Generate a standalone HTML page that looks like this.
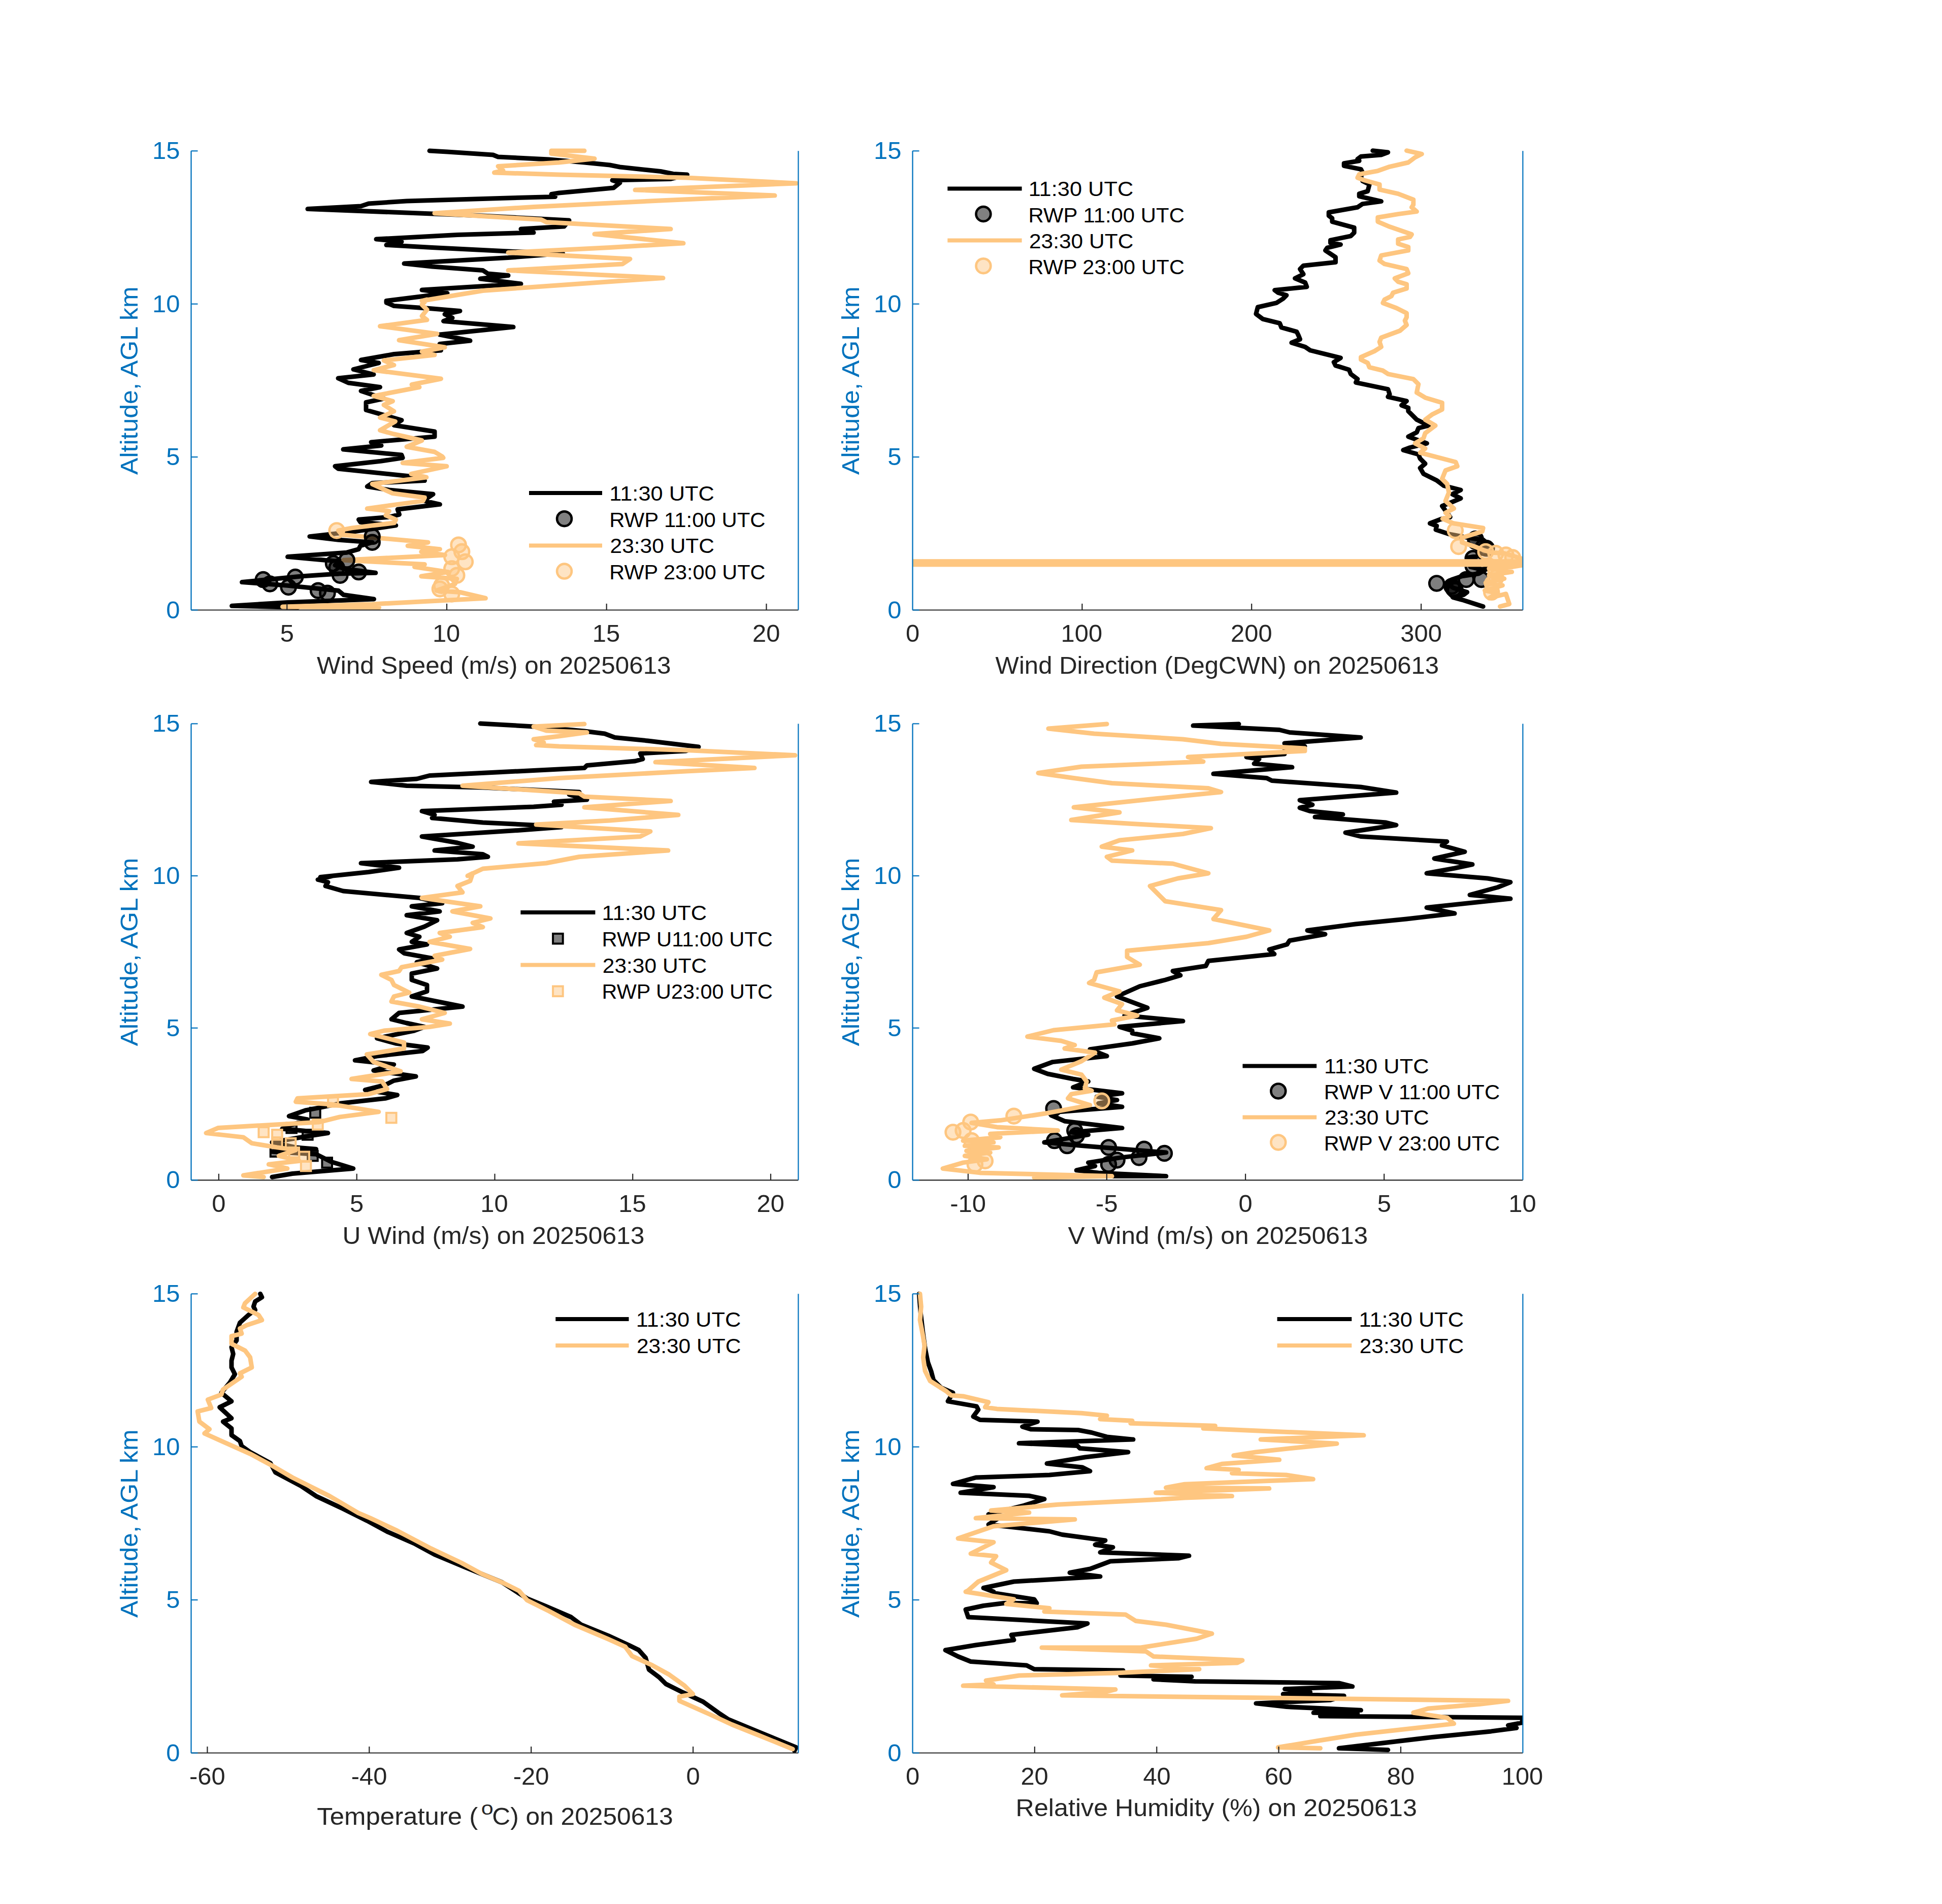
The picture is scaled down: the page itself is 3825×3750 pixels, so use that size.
<!DOCTYPE html><html><head><meta charset="utf-8"><style>html,body{margin:0;padding:0;background:#fff;overflow:hidden}svg{display:block}text{font-family:"Liberation Sans",sans-serif}</style></head><body>
<svg width="3825" height="3750" viewBox="0 0 3825 3750">
<rect width="3825" height="3750" fill="#fff"/>
<clipPath id="c1"><rect x="376.5" y="291.3" width="1195.9" height="910.2"/></clipPath>
<g clip-path="url(#c1)">
<polyline points="846.0,297.0 881.0,299.0 971.0,305.0 981.0,309.0 1081.0,314.0 1151.0,320.0 1201.0,325.0 1221.0,329.0 1301.0,337.5 1326.0,342.5 1353.5,344.0 1321.0,352.5 1206.0,355.0 1221.0,360.0 1208.5,370.0 1101.0,380.0 1086.0,382.5 1093.5,387.5 1001.0,390.0 801.0,396.0 726.0,401.0 711.0,406.0 606.0,411.5 851.0,421.0 951.0,425.0 1121.0,434.0 1111.0,446.0 1026.0,451.0 1051.0,458.0 901.0,462.5 741.0,471.0 791.0,476.0 761.0,482.5 851.0,487.5 1001.0,495.0 1108.5,499.0 1001.0,507.5 796.0,519.0 851.0,525.0 951.0,532.5 961.0,539.0 1001.0,542.5 946.0,549.0 1026.0,559.0 831.0,571.0 881.0,577.5 761.0,592.5 761.0,596.0 776.0,602.5 846.0,607.5 906.0,612.5 876.0,619.0 891.0,626.0 873.5,632.5 1011.0,644.0 866.0,659.0 926.0,671.0 866.0,677.5 868.5,690.0 776.0,697.5 711.0,709.0 746.0,715.0 696.0,727.5 736.0,737.5 666.0,745.0 686.0,754.0 748.5,762.5 711.0,770.0 756.0,785.0 721.0,792.5 721.0,807.5 791.0,827.5 776.0,837.5 856.0,850.0 856.0,860.0 731.0,871.0 751.0,877.5 676.0,885.0 791.0,896.0 793.1,901.7 749.8,908.3 659.9,918.3 666.5,923.3 809.8,938.3 836.4,946.6 733.2,951.6 723.2,958.3 766.5,965.0 853.1,973.3 843.1,980.0 836.4,986.6 866.4,993.3 783.1,1003.3 786.5,1013.3 766.5,1018.3 706.5,1023.3 709.8,1028.3 779.8,1034.9 699.9,1046.6 609.9,1056.6 666.5,1063.3 733.2,1068.2 709.8,1074.9 706.5,1081.6 683.2,1088.2 566.6,1096.6 639.9,1103.2 669.9,1104.9 659.9,1113.2 676.5,1119.9 739.8,1128.2 666.5,1129.9 593.2,1134.9 476.6,1146.5 566.6,1153.2 666.5,1163.2 676.5,1171.5 736.5,1179.9 566.6,1186.5 456.6,1193.2 586.6,1196.5" fill="none" stroke="#000000" stroke-width="9.0" stroke-linejoin="round" stroke-linecap="round" />
<polyline points="1151.0,297.0 1086.0,297.0 1086.0,302.5 1171.0,312.5 1101.0,320.0 981.0,327.5 991.0,336.0 973.5,340.0 1101.0,344.0 1351.0,350.0 1568.5,361.0 1251.0,374.0 1526.0,385.0 1301.0,395.0 1051.0,407.5 856.0,420.0 1066.0,432.5 1076.0,437.5 1321.0,451.0 1171.0,461.0 1346.0,479.0 1201.0,487.5 1001.0,497.5 1241.0,510.0 1226.0,520.0 1001.0,532.5 1306.0,547.5 1126.0,560.0 951.0,572.5 831.0,592.5 841.0,590.0 831.0,600.0 841.0,610.0 831.0,622.5 841.0,630.0 748.5,642.5 861.0,657.5 786.0,670.0 876.0,684.0 831.0,692.5 856.0,699.0 756.0,710.0 776.0,719.0 736.0,729.0 868.5,746.0 811.0,757.5 826.0,762.5 736.0,780.0 773.5,790.0 756.0,797.5 776.0,810.0 748.5,822.5 778.5,830.0 748.5,847.5 776.0,855.0 831.0,867.5 801.0,880.0 856.0,890.0 871.0,899.0 873.1,901.7 793.1,911.7 879.8,918.3 809.8,933.3 839.8,940.0 733.2,953.3 773.1,971.6 836.4,980.0 833.1,986.6 723.2,1001.6 766.5,1006.6 759.8,1014.9 779.8,1023.3 776.5,1029.9 693.2,1039.9 666.5,1044.9 673.2,1053.3 843.1,1068.2 803.1,1074.9 866.4,1081.6 829.8,1086.6 876.4,1093.2 676.5,1103.2 836.4,1111.6 816.5,1116.6 883.1,1126.6 829.8,1134.9 899.8,1139.9 896.4,1149.9 859.8,1163.2 906.4,1166.5 956.4,1178.2 733.2,1189.9 556.6,1194.9 746.5,1196.5" fill="none" stroke="#FEC680" stroke-width="9.0" stroke-linejoin="round" stroke-linecap="round" />
<circle cx="733.2" cy="1056.6" r="14.4" fill="#000000" fill-opacity="0.5" stroke="#000000" stroke-width="4.7"/>
<circle cx="733.2" cy="1068.2" r="14.4" fill="#000000" fill-opacity="0.5" stroke="#000000" stroke-width="4.7"/>
<circle cx="683.2" cy="1103.2" r="14.4" fill="#000000" fill-opacity="0.5" stroke="#000000" stroke-width="4.7"/>
<circle cx="656.5" cy="1109.9" r="14.4" fill="#000000" fill-opacity="0.5" stroke="#000000" stroke-width="4.7"/>
<circle cx="663.2" cy="1118.2" r="14.4" fill="#000000" fill-opacity="0.5" stroke="#000000" stroke-width="4.7"/>
<circle cx="669.9" cy="1133.2" r="14.4" fill="#000000" fill-opacity="0.5" stroke="#000000" stroke-width="4.7"/>
<circle cx="706.5" cy="1126.6" r="14.4" fill="#000000" fill-opacity="0.5" stroke="#000000" stroke-width="4.7"/>
<circle cx="518.3" cy="1141.5" r="14.4" fill="#000000" fill-opacity="0.5" stroke="#000000" stroke-width="4.7"/>
<circle cx="531.6" cy="1149.9" r="14.4" fill="#000000" fill-opacity="0.5" stroke="#000000" stroke-width="4.7"/>
<circle cx="581.6" cy="1136.5" r="14.4" fill="#000000" fill-opacity="0.5" stroke="#000000" stroke-width="4.7"/>
<circle cx="568.2" cy="1156.5" r="14.4" fill="#000000" fill-opacity="0.5" stroke="#000000" stroke-width="4.7"/>
<circle cx="626.6" cy="1163.2" r="14.4" fill="#000000" fill-opacity="0.5" stroke="#000000" stroke-width="4.7"/>
<circle cx="644.9" cy="1168.2" r="14.4" fill="#000000" fill-opacity="0.5" stroke="#000000" stroke-width="4.7"/>
<circle cx="663.2" cy="1044.9" r="14.4" fill="#FEC680" fill-opacity="0.47" stroke="#FEC680" stroke-width="4.7"/>
<circle cx="903.1" cy="1073.2" r="14.4" fill="#FEC680" fill-opacity="0.47" stroke="#FEC680" stroke-width="4.7"/>
<circle cx="909.7" cy="1086.6" r="14.4" fill="#FEC680" fill-opacity="0.47" stroke="#FEC680" stroke-width="4.7"/>
<circle cx="916.4" cy="1106.6" r="14.4" fill="#FEC680" fill-opacity="0.47" stroke="#FEC680" stroke-width="4.7"/>
<circle cx="889.8" cy="1096.6" r="14.4" fill="#FEC680" fill-opacity="0.47" stroke="#FEC680" stroke-width="4.7"/>
<circle cx="889.8" cy="1119.9" r="14.4" fill="#FEC680" fill-opacity="0.47" stroke="#FEC680" stroke-width="4.7"/>
<circle cx="899.8" cy="1133.2" r="14.4" fill="#FEC680" fill-opacity="0.47" stroke="#FEC680" stroke-width="4.7"/>
<circle cx="866.4" cy="1159.9" r="14.4" fill="#FEC680" fill-opacity="0.47" stroke="#FEC680" stroke-width="4.7"/>
<circle cx="889.8" cy="1169.9" r="14.4" fill="#FEC680" fill-opacity="0.47" stroke="#FEC680" stroke-width="4.7"/>
<circle cx="869.8" cy="1153.2" r="14.4" fill="#FEC680" fill-opacity="0.47" stroke="#FEC680" stroke-width="4.7"/>
</g>
<line x1="376.5" y1="1201.5" x2="1572.4" y2="1201.5" stroke="#262626" stroke-width="2.2"/>
<line x1="565.3" y1="1201.5" x2="565.3" y2="1188.9" stroke="#262626" stroke-width="2.2"/>
<text x="551.8" y="1264.0" font-size="47.5" fill="#262626" textLength="27.2" lengthAdjust="spacingAndGlyphs" >5</text>
<line x1="880.0" y1="1201.5" x2="880.0" y2="1188.9" stroke="#262626" stroke-width="2.2"/>
<text x="851.9" y="1264.0" font-size="47.5" fill="#262626" textLength="54.4" lengthAdjust="spacingAndGlyphs" >10</text>
<line x1="1194.7" y1="1201.5" x2="1194.7" y2="1188.9" stroke="#262626" stroke-width="2.2"/>
<text x="1166.7" y="1264.0" font-size="47.5" fill="#262626" textLength="54.4" lengthAdjust="spacingAndGlyphs" >15</text>
<line x1="1509.5" y1="1201.5" x2="1509.5" y2="1188.9" stroke="#262626" stroke-width="2.2"/>
<text x="1482.0" y="1264.0" font-size="47.5" fill="#262626" textLength="54.4" lengthAdjust="spacingAndGlyphs" >20</text>
<line x1="376.5" y1="297.3" x2="376.5" y2="1201.5" stroke="#0072BD" stroke-width="2.3"/>
<line x1="1572.4" y1="297.3" x2="1572.4" y2="1201.5" stroke="#0072BD" stroke-width="2.2"/>
<line x1="376.5" y1="1201.5" x2="389.5" y2="1201.5" stroke="#0072BD" stroke-width="2.2"/>
<text x="327.2" y="1217.5" font-size="47.5" fill="#0072BD" textLength="27.2" lengthAdjust="spacingAndGlyphs" >0</text>
<line x1="376.5" y1="900.1" x2="389.5" y2="900.1" stroke="#0072BD" stroke-width="2.2"/>
<text x="327.3" y="916.1" font-size="47.5" fill="#0072BD" textLength="27.2" lengthAdjust="spacingAndGlyphs" >5</text>
<line x1="376.5" y1="598.7" x2="389.5" y2="598.7" stroke="#0072BD" stroke-width="2.2"/>
<text x="300.0" y="614.7" font-size="47.5" fill="#0072BD" textLength="54.4" lengthAdjust="spacingAndGlyphs" >10</text>
<line x1="376.5" y1="297.3" x2="389.5" y2="297.3" stroke="#0072BD" stroke-width="2.2"/>
<text x="300.1" y="313.3" font-size="47.5" fill="#0072BD" textLength="54.4" lengthAdjust="spacingAndGlyphs" >15</text>
<g transform="translate(271.3,0) rotate(-90)"><text x="-934.9" y="0" font-size="47.5" fill="#0072BD" textLength="370.6" lengthAdjust="spacingAndGlyphs">Altitude, AGL km</text></g>
<text x="624.1" y="1327.2" font-size="47.5" fill="#262626" textLength="697.5" lengthAdjust="spacingAndGlyphs" >Wind Speed (m/s) on 20250613</text>
<clipPath id="c2"><rect x="1797.5" y="291.3" width="1201.9" height="910.2"/></clipPath>
<g clip-path="url(#c2)">
<circle cx="2906.2" cy="1061.5" r="14.4" fill="#000000" fill-opacity="0.5" stroke="#000000" stroke-width="4.7"/>
<circle cx="2906.2" cy="1066.5" r="14.4" fill="#000000" fill-opacity="0.5" stroke="#000000" stroke-width="4.7"/>
<circle cx="2927.8" cy="1079.8" r="14.4" fill="#000000" fill-opacity="0.5" stroke="#000000" stroke-width="4.7"/>
<circle cx="2901.2" cy="1099.8" r="14.4" fill="#000000" fill-opacity="0.5" stroke="#000000" stroke-width="4.7"/>
<circle cx="2901.2" cy="1114.8" r="14.4" fill="#000000" fill-opacity="0.5" stroke="#000000" stroke-width="4.7"/>
<circle cx="2917.9" cy="1141.4" r="14.4" fill="#000000" fill-opacity="0.5" stroke="#000000" stroke-width="4.7"/>
<circle cx="2887.9" cy="1141.4" r="14.4" fill="#000000" fill-opacity="0.5" stroke="#000000" stroke-width="4.7"/>
<circle cx="2829.7" cy="1148.9" r="14.4" fill="#000000" fill-opacity="0.5" stroke="#000000" stroke-width="4.7"/>
<circle cx="2859.6" cy="1154.7" r="14.4" fill="#000000" fill-opacity="0.5" stroke="#000000" stroke-width="4.7"/>
<circle cx="2863.0" cy="1159.7" r="14.4" fill="#000000" fill-opacity="0.5" stroke="#000000" stroke-width="4.7"/>
<circle cx="2866.3" cy="1163.0" r="14.4" fill="#000000" fill-opacity="0.5" stroke="#000000" stroke-width="4.7"/>
<circle cx="2921.2" cy="1078.2" r="14.4" fill="#000000" fill-opacity="0.5" stroke="#000000" stroke-width="4.7"/>
<polyline points="2703.8,296.7 2733.8,300.0 2720.5,305.0 2680.5,308.3 2673.8,313.3 2677.2,316.7 2647.2,321.7 2647.2,326.6 2680.5,333.3 2683.8,340.0 2680.5,348.3 2683.8,356.6 2697.2,363.3 2693.8,376.6 2677.2,381.6 2677.2,386.6 2720.5,396.6 2683.8,401.6 2673.8,408.3 2617.2,418.3 2617.2,424.9 2623.9,429.9 2623.9,436.6 2667.2,448.3 2667.2,458.2 2660.5,464.9 2620.5,473.2 2620.5,478.2 2640.5,481.6 2613.9,488.2 2610.5,493.2 2630.5,506.6 2630.5,516.6 2567.2,523.2 2560.6,529.9 2567.2,539.9 2550.6,548.2 2570.6,556.5 2573.9,564.9 2510.6,571.5 2517.3,576.5 2533.9,581.5 2527.2,588.2 2513.9,596.7 2477.3,605.0 2473.9,618.3 2487.3,628.3 2520.6,636.6 2523.9,645.0 2553.9,653.3 2557.2,660.0 2560.6,668.3 2543.9,675.0 2570.6,683.3 2580.6,690.0 2607.2,696.6 2640.5,704.9 2627.2,713.3 2630.5,719.9 2657.2,728.3 2660.5,736.6 2673.8,746.6 2670.5,753.3 2733.8,766.6 2737.1,776.6 2733.8,781.6 2770.5,789.9 2760.5,798.2 2773.8,803.2 2773.8,809.9 2790.4,826.5 2813.8,838.2 2793.8,843.2 2790.4,851.5 2773.8,859.9 2810.4,873.2 2777.1,881.5 2763.8,886.5 2793.8,895.0 2797.1,903.3 2807.1,913.3 2797.1,921.7 2803.8,933.3 2830.4,946.6 2843.8,956.6 2877.1,965.0 2860.4,973.3 2877.1,981.6 2857.1,990.0 2840.4,996.6 2856.3,1018.3 2838.0,1022.5 2816.4,1030.8 2829.7,1035.8 2828.0,1043.2 2853.0,1051.6 2896.2,1059.9 2921.2,1063.2 2932.8,1073.2 2909.5,1086.5 2912.9,1094.8 2891.2,1098.1 2896.2,1116.4 2916.2,1121.4 2929.5,1119.8 2912.9,1129.7 2879.6,1134.7 2859.6,1141.4 2849.7,1149.7 2863.0,1158.0 2889.6,1166.3 2882.9,1171.3 2861.3,1176.3 2879.6,1181.3 2921.2,1194.6" fill="none" stroke="#000000" stroke-width="9.0" stroke-linejoin="round" stroke-linecap="round" />
<circle cx="2866.3" cy="1044.9" r="14.4" fill="#FEC680" fill-opacity="0.47" stroke="#FEC680" stroke-width="4.7"/>
<circle cx="2872.9" cy="1076.5" r="14.4" fill="#FEC680" fill-opacity="0.47" stroke="#FEC680" stroke-width="4.7"/>
<circle cx="2926.2" cy="1086.5" r="14.4" fill="#FEC680" fill-opacity="0.47" stroke="#FEC680" stroke-width="4.7"/>
<circle cx="2946.1" cy="1089.8" r="14.4" fill="#FEC680" fill-opacity="0.47" stroke="#FEC680" stroke-width="4.7"/>
<circle cx="2966.1" cy="1093.1" r="14.4" fill="#FEC680" fill-opacity="0.47" stroke="#FEC680" stroke-width="4.7"/>
<circle cx="2979.4" cy="1098.1" r="14.4" fill="#FEC680" fill-opacity="0.47" stroke="#FEC680" stroke-width="4.7"/>
<circle cx="2946.1" cy="1126.4" r="14.4" fill="#FEC680" fill-opacity="0.47" stroke="#FEC680" stroke-width="4.7"/>
<circle cx="2939.5" cy="1149.7" r="14.4" fill="#FEC680" fill-opacity="0.47" stroke="#FEC680" stroke-width="4.7"/>
<circle cx="2937.8" cy="1166.3" r="14.4" fill="#FEC680" fill-opacity="0.47" stroke="#FEC680" stroke-width="4.7"/>
<circle cx="2946.1" cy="1138.1" r="14.4" fill="#FEC680" fill-opacity="0.47" stroke="#FEC680" stroke-width="4.7"/>
<polyline points="2770.5,296.7 2800.4,303.3 2787.1,310.0 2773.8,320.0 2737.1,328.3 2713.8,336.6 2677.2,343.3 2673.8,350.0 2687.2,355.0 2717.2,363.3 2717.2,373.3 2753.8,381.6 2783.8,393.3 2783.8,403.3 2780.5,408.3 2790.4,416.6 2753.8,421.6 2713.8,428.3 2713.8,436.6 2737.1,446.6 2780.5,461.6 2777.1,466.6 2753.8,471.6 2753.8,479.9 2773.8,486.6 2773.8,493.2 2720.5,503.2 2717.2,513.2 2727.1,519.9 2770.5,529.9 2773.8,538.2 2747.1,548.2 2753.8,554.9 2770.5,559.9 2770.5,568.2 2743.8,576.5 2740.5,583.2 2727.1,589.9 2723.8,596.7 2750.5,606.7 2770.5,616.7 2770.5,625.0 2767.1,631.6 2770.5,640.0 2757.1,651.6 2720.5,665.0 2717.2,673.3 2720.5,683.3 2707.2,691.6 2680.5,703.3 2680.5,708.3 2693.8,714.9 2697.2,723.3 2723.8,729.9 2733.8,736.6 2783.8,746.6 2793.8,756.6 2790.4,773.2 2807.1,783.2 2840.4,793.2 2840.4,806.6 2820.4,816.6 2807.1,826.5 2827.1,838.2 2807.1,853.2 2803.8,863.2 2787.1,873.2 2807.1,883.2 2797.1,891.7 2867.1,910.0 2870.4,918.3 2847.1,926.6 2840.4,943.3 2850.4,953.3 2853.8,970.0 2847.1,986.6 2863.7,1001.6 2847.1,1009.9 2854.7,1016.6 2841.3,1021.6 2863.0,1030.8 2921.2,1039.9 2919.5,1046.6 2879.6,1059.0 2879.6,1068.2 2904.6,1076.5 2921.2,1083.2 2937.8,1088.2 2962.8,1089.8 2979.4,1094.8 3001.0,1101.5 2999.4,1113.1 2979.4,1116.4 2932.8,1119.8 2977.7,1126.4 2932.8,1133.1 2962.8,1139.7 2926.2,1148.0 2959.4,1153.0 2924.5,1163.0 2949.5,1168.0 2932.8,1178.0 2966.1,1169.7 2972.7,1189.6 2954.5,1194.6" fill="none" stroke="#FEC680" stroke-width="9.0" stroke-linejoin="round" stroke-linecap="round" />
<rect x="1797.5" y="1101.2" width="1202" height="15.2" fill="#FEC680"/>
</g>
<line x1="1797.5" y1="1201.5" x2="2999.4" y2="1201.5" stroke="#262626" stroke-width="2.2"/>
<text x="1783.9" y="1264.0" font-size="47.5" fill="#262626" textLength="27.2" lengthAdjust="spacingAndGlyphs" >0</text>
<line x1="2131.4" y1="1201.5" x2="2131.4" y2="1188.9" stroke="#262626" stroke-width="2.2"/>
<text x="2089.6" y="1264.0" font-size="47.5" fill="#262626" textLength="81.6" lengthAdjust="spacingAndGlyphs" >100</text>
<line x1="2465.2" y1="1201.5" x2="2465.2" y2="1188.9" stroke="#262626" stroke-width="2.2"/>
<text x="2424.1" y="1264.0" font-size="47.5" fill="#262626" textLength="81.6" lengthAdjust="spacingAndGlyphs" >200</text>
<line x1="2799.1" y1="1201.5" x2="2799.1" y2="1188.9" stroke="#262626" stroke-width="2.2"/>
<text x="2758.3" y="1264.0" font-size="47.5" fill="#262626" textLength="81.6" lengthAdjust="spacingAndGlyphs" >300</text>
<line x1="1797.5" y1="297.3" x2="1797.5" y2="1201.5" stroke="#0072BD" stroke-width="2.3"/>
<line x1="2999.4" y1="297.3" x2="2999.4" y2="1201.5" stroke="#0072BD" stroke-width="2.2"/>
<line x1="1797.5" y1="1201.5" x2="1810.5" y2="1201.5" stroke="#0072BD" stroke-width="2.2"/>
<text x="1748.2" y="1217.5" font-size="47.5" fill="#0072BD" textLength="27.2" lengthAdjust="spacingAndGlyphs" >0</text>
<line x1="1797.5" y1="900.1" x2="1810.5" y2="900.1" stroke="#0072BD" stroke-width="2.2"/>
<text x="1748.3" y="916.1" font-size="47.5" fill="#0072BD" textLength="27.2" lengthAdjust="spacingAndGlyphs" >5</text>
<line x1="1797.5" y1="598.7" x2="1810.5" y2="598.7" stroke="#0072BD" stroke-width="2.2"/>
<text x="1721.0" y="614.7" font-size="47.5" fill="#0072BD" textLength="54.4" lengthAdjust="spacingAndGlyphs" >10</text>
<line x1="1797.5" y1="297.3" x2="1810.5" y2="297.3" stroke="#0072BD" stroke-width="2.2"/>
<text x="1721.1" y="313.3" font-size="47.5" fill="#0072BD" textLength="54.4" lengthAdjust="spacingAndGlyphs" >15</text>
<g transform="translate(1692.3,0) rotate(-90)"><text x="-934.9" y="0" font-size="47.5" fill="#0072BD" textLength="370.6" lengthAdjust="spacingAndGlyphs">Altitude, AGL km</text></g>
<text x="1960.6" y="1327.2" font-size="47.5" fill="#262626" textLength="873.6" lengthAdjust="spacingAndGlyphs" >Wind Direction (DegCWN) on 20250613</text>
<clipPath id="c3"><rect x="376.5" y="1419.4" width="1195.9" height="904.9000000000001"/></clipPath>
<g clip-path="url(#c3)">
<polyline points="946.0,1425.0 1051.0,1431.0 1151.0,1440.0 1191.0,1445.0 1211.0,1452.5 1276.0,1459.0 1326.0,1465.0 1376.0,1471.0 1351.0,1479.0 1261.0,1484.0 1266.0,1495.0 1251.0,1499.0 1156.0,1507.5 1151.0,1512.5 1051.0,1517.5 846.0,1527.5 821.0,1534.0 731.0,1540.0 801.0,1547.5 951.0,1551.0 1141.0,1560.0 1121.0,1565.0 1156.0,1575.0 1091.0,1579.0 1106.0,1585.0 1051.0,1589.0 831.0,1597.5 856.0,1605.0 851.0,1611.0 951.0,1620.0 1051.0,1625.0 1096.0,1625.0 1106.0,1629.0 1026.0,1635.0 831.0,1647.5 901.0,1660.0 931.0,1667.5 856.0,1675.0 951.0,1682.5 961.0,1687.5 901.0,1692.5 711.0,1700.0 786.0,1709.0 726.0,1717.5 631.0,1727.5 656.0,1725.0 626.0,1732.5 646.0,1737.5 641.0,1745.0 676.0,1755.0 826.0,1768.5 871.0,1779.0 811.0,1785.0 866.0,1795.0 801.0,1802.5 861.0,1812.5 836.0,1825.0 801.0,1837.5 826.0,1845.0 811.0,1855.0 841.0,1860.0 786.0,1870.0 796.0,1877.5 851.0,1887.5 821.0,1895.0 861.0,1907.5 811.0,1917.5 811.0,1930.0 841.0,1940.0 841.0,1952.5 811.0,1962.5 911.0,1982.5 786.0,1995.0 771.0,2007.5 801.0,2015.0 836.0,2022.5 815.8,2030.0 742.5,2045.0 779.1,2055.0 842.4,2063.3 832.4,2070.0 742.5,2080.0 699.2,2088.3 775.8,2096.6 735.8,2108.3 819.1,2120.0 775.8,2128.3 759.1,2136.6 719.2,2146.6 782.5,2156.6 759.1,2163.3 669.2,2173.3 629.2,2181.6 602.6,2186.6 569.2,2198.2 605.9,2204.9 575.9,2214.9 555.9,2223.2 645.9,2231.6 602.6,2238.2 535.9,2249.9 582.6,2259.9 622.5,2263.2 535.9,2268.2 622.5,2273.2 652.5,2288.2 695.8,2301.5 575.9,2311.5 535.9,2318.2" fill="none" stroke="#000000" stroke-width="9.0" stroke-linejoin="round" stroke-linecap="round" />
<rect x="611.1" y="2181.8" width="19.6" height="19.6" fill="#000000" fill-opacity="0.5" stroke="#000000" stroke-width="4"/>
<rect x="564.4" y="2211.8" width="19.6" height="19.6" fill="#000000" fill-opacity="0.5" stroke="#000000" stroke-width="4"/>
<rect x="596.1" y="2225.1" width="19.6" height="19.6" fill="#000000" fill-opacity="0.5" stroke="#000000" stroke-width="4"/>
<rect x="606.1" y="2266.7" width="19.6" height="19.6" fill="#000000" fill-opacity="0.5" stroke="#000000" stroke-width="4"/>
<rect x="634.4" y="2280.1" width="19.6" height="19.6" fill="#000000" fill-opacity="0.5" stroke="#000000" stroke-width="4"/>
<rect x="532.8" y="2258.4" width="19.6" height="19.6" fill="#000000" fill-opacity="0.5" stroke="#000000" stroke-width="4"/>
<polyline points="1151.0,1426.0 1051.0,1431.0 1076.0,1439.0 1156.0,1442.5 1101.0,1450.0 1051.0,1456.0 1071.0,1462.5 1056.0,1467.5 1101.0,1470.0 1351.0,1477.5 1566.0,1487.5 1291.0,1501.0 1486.0,1512.5 1351.0,1519.0 1101.0,1532.5 911.0,1547.5 1141.0,1562.5 1151.0,1569.0 1321.0,1577.5 1151.0,1590.0 1336.0,1605.0 1201.0,1616.0 1056.0,1624.0 1281.0,1637.5 1261.0,1647.5 1021.0,1661.0 1316.0,1675.0 1141.0,1687.5 1076.0,1700.0 951.0,1711.0 921.0,1725.0 931.0,1720.0 926.0,1735.0 901.0,1745.0 911.0,1757.5 831.0,1768.5 946.0,1785.0 891.0,1795.0 966.0,1809.0 931.0,1817.5 951.0,1826.0 866.0,1837.5 886.0,1845.0 846.0,1855.0 926.0,1869.0 856.0,1882.5 871.0,1890.0 791.0,1905.0 786.0,1912.5 751.0,1920.0 771.0,1930.0 776.0,1940.0 806.0,1955.0 776.0,1962.5 771.0,1972.5 826.0,1982.5 876.0,1995.0 831.0,2007.5 886.0,2016.0 846.0,2022.5 756.0,2030.0 729.2,2036.7 795.8,2053.3 795.8,2065.0 722.5,2076.6 735.8,2091.6 789.1,2110.0 692.5,2125.0 752.5,2130.0 762.5,2144.9 725.8,2154.9 585.9,2163.3 582.6,2169.9 652.5,2174.9 745.8,2189.9 669.2,2199.9 629.2,2209.9 542.6,2214.9 429.3,2221.6 406.0,2231.6 479.3,2239.9 495.9,2251.6 545.9,2259.9 582.6,2264.9 549.2,2276.5 589.2,2286.5 529.3,2293.2 565.9,2301.5 479.3,2314.9 519.3,2318.2" fill="none" stroke="#FEC680" stroke-width="9.0" stroke-linejoin="round" stroke-linecap="round" />
<rect x="646.1" y="2160.1" width="19.6" height="19.6" fill="#FEC680" fill-opacity="0.47" stroke="#FEC680" stroke-width="4"/>
<rect x="761.0" y="2191.8" width="19.6" height="19.6" fill="#FEC680" fill-opacity="0.47" stroke="#FEC680" stroke-width="4"/>
<rect x="616.1" y="2205.1" width="19.6" height="19.6" fill="#FEC680" fill-opacity="0.47" stroke="#FEC680" stroke-width="4"/>
<rect x="509.5" y="2220.1" width="19.6" height="19.6" fill="#FEC680" fill-opacity="0.47" stroke="#FEC680" stroke-width="4"/>
<rect x="536.1" y="2225.1" width="19.6" height="19.6" fill="#FEC680" fill-opacity="0.47" stroke="#FEC680" stroke-width="4"/>
<rect x="536.1" y="2240.1" width="19.6" height="19.6" fill="#FEC680" fill-opacity="0.47" stroke="#FEC680" stroke-width="4"/>
<rect x="562.8" y="2241.8" width="19.6" height="19.6" fill="#FEC680" fill-opacity="0.47" stroke="#FEC680" stroke-width="4"/>
<rect x="569.4" y="2260.1" width="19.6" height="19.6" fill="#FEC680" fill-opacity="0.47" stroke="#FEC680" stroke-width="4"/>
<rect x="589.4" y="2268.4" width="19.6" height="19.6" fill="#FEC680" fill-opacity="0.47" stroke="#FEC680" stroke-width="4"/>
<rect x="592.8" y="2286.7" width="19.6" height="19.6" fill="#FEC680" fill-opacity="0.47" stroke="#FEC680" stroke-width="4"/>
</g>
<line x1="376.5" y1="2324.3" x2="1572.4" y2="2324.3" stroke="#262626" stroke-width="2.2"/>
<line x1="430.9" y1="2324.3" x2="430.9" y2="2311.7000000000003" stroke="#262626" stroke-width="2.2"/>
<text x="417.3" y="2386.8" font-size="47.5" fill="#262626" textLength="27.2" lengthAdjust="spacingAndGlyphs" >0</text>
<line x1="702.7" y1="2324.3" x2="702.7" y2="2311.7000000000003" stroke="#262626" stroke-width="2.2"/>
<text x="689.1" y="2386.8" font-size="47.5" fill="#262626" textLength="27.2" lengthAdjust="spacingAndGlyphs" >5</text>
<line x1="974.5" y1="2324.3" x2="974.5" y2="2311.7000000000003" stroke="#262626" stroke-width="2.2"/>
<text x="946.3" y="2386.8" font-size="47.5" fill="#262626" textLength="54.4" lengthAdjust="spacingAndGlyphs" >10</text>
<line x1="1246.2" y1="2324.3" x2="1246.2" y2="2311.7000000000003" stroke="#262626" stroke-width="2.2"/>
<text x="1218.2" y="2386.8" font-size="47.5" fill="#262626" textLength="54.4" lengthAdjust="spacingAndGlyphs" >15</text>
<line x1="1518.0" y1="2324.3" x2="1518.0" y2="2311.7000000000003" stroke="#262626" stroke-width="2.2"/>
<text x="1490.6" y="2386.8" font-size="47.5" fill="#262626" textLength="54.4" lengthAdjust="spacingAndGlyphs" >20</text>
<line x1="376.5" y1="1425.4" x2="376.5" y2="2324.3" stroke="#0072BD" stroke-width="2.3"/>
<line x1="1572.4" y1="1425.4" x2="1572.4" y2="2324.3" stroke="#0072BD" stroke-width="2.2"/>
<line x1="376.5" y1="2324.3" x2="389.5" y2="2324.3" stroke="#0072BD" stroke-width="2.2"/>
<text x="327.2" y="2340.3" font-size="47.5" fill="#0072BD" textLength="27.2" lengthAdjust="spacingAndGlyphs" >0</text>
<line x1="376.5" y1="2024.7" x2="389.5" y2="2024.7" stroke="#0072BD" stroke-width="2.2"/>
<text x="327.3" y="2040.7" font-size="47.5" fill="#0072BD" textLength="27.2" lengthAdjust="spacingAndGlyphs" >5</text>
<line x1="376.5" y1="1725.0" x2="389.5" y2="1725.0" stroke="#0072BD" stroke-width="2.2"/>
<text x="300.0" y="1741.0" font-size="47.5" fill="#0072BD" textLength="54.4" lengthAdjust="spacingAndGlyphs" >10</text>
<line x1="376.5" y1="1425.4" x2="389.5" y2="1425.4" stroke="#0072BD" stroke-width="2.2"/>
<text x="300.1" y="1441.4" font-size="47.5" fill="#0072BD" textLength="54.4" lengthAdjust="spacingAndGlyphs" >15</text>
<g transform="translate(271.3,0) rotate(-90)"><text x="-2060.3" y="0" font-size="47.5" fill="#0072BD" textLength="370.6" lengthAdjust="spacingAndGlyphs">Altitude, AGL km</text></g>
<text x="674.5" y="2449.9" font-size="47.5" fill="#262626" textLength="595.0" lengthAdjust="spacingAndGlyphs" >U Wind (m/s) on 20250613</text>
<clipPath id="c4"><rect x="1797.5" y="1419.4" width="1201.9" height="904.9000000000001"/></clipPath>
<g clip-path="url(#c4)">
<polyline points="2440.0,1426.0 2350.0,1429.0 2520.0,1437.5 2540.0,1442.5 2680.0,1452.5 2530.0,1464.0 2570.0,1470.0 2530.0,1479.0 2530.0,1485.0 2455.0,1491.0 2480.0,1495.0 2470.0,1504.0 2545.0,1511.0 2390.0,1524.0 2495.0,1532.5 2505.0,1537.5 2680.0,1550.0 2750.0,1561.0 2560.0,1576.0 2585.0,1585.0 2560.0,1591.0 2580.0,1597.5 2645.0,1604.0 2590.0,1609.0 2730.0,1620.0 2750.0,1625.0 2650.0,1640.0 2680.0,1647.5 2850.0,1657.5 2840.0,1665.0 2885.0,1677.5 2825.0,1691.0 2900.0,1702.5 2865.0,1710.0 2810.0,1720.0 2930.0,1730.0 2975.0,1737.5 2950.0,1747.5 2895.0,1762.5 2975.0,1770.0 2810.0,1787.5 2865.0,1799.0 2770.0,1810.0 2670.0,1820.0 2575.0,1832.5 2610.0,1840.0 2540.0,1852.5 2535.0,1860.0 2500.0,1870.0 2510.0,1879.0 2380.0,1892.5 2375.0,1902.5 2310.0,1912.5 2325.0,1921.0 2295.0,1930.0 2245.0,1942.5 2200.0,1962.5 2220.0,1970.0 2260.0,1985.0 2215.0,2000.0 2330.0,2011.0 2205.0,2022.5 2230.0,2030.0 2230.1,2035.0 2283.4,2045.0 2230.1,2055.0 2146.8,2066.6 2180.1,2080.0 2073.5,2091.6 2036.9,2105.0 2063.5,2115.0 2113.5,2125.0 2143.5,2130.0 2113.5,2141.6 2210.1,2153.3 2160.2,2159.9 2200.1,2166.6 2163.5,2173.3 2210.1,2179.9 2083.5,2189.9 2070.2,2196.6 2096.9,2208.2 2210.1,2221.6 2110.2,2229.9 2143.5,2234.9 2056.9,2249.9 2130.2,2256.6 2296.8,2269.9 2206.8,2279.9 2143.5,2289.9 2156.8,2296.5 2120.2,2304.9 2163.5,2309.9 2296.8,2316.5 2180.1,2316.5" fill="none" stroke="#000000" stroke-width="9.0" stroke-linejoin="round" stroke-linecap="round" />
<circle cx="2075.2" cy="2183.3" r="14.4" fill="#000000" fill-opacity="0.5" stroke="#000000" stroke-width="4.7"/>
<circle cx="2116.8" cy="2226.6" r="14.4" fill="#000000" fill-opacity="0.5" stroke="#000000" stroke-width="4.7"/>
<circle cx="2120.2" cy="2236.6" r="14.4" fill="#000000" fill-opacity="0.5" stroke="#000000" stroke-width="4.7"/>
<circle cx="2076.9" cy="2246.6" r="14.4" fill="#000000" fill-opacity="0.5" stroke="#000000" stroke-width="4.7"/>
<circle cx="2101.8" cy="2256.6" r="14.4" fill="#000000" fill-opacity="0.5" stroke="#000000" stroke-width="4.7"/>
<circle cx="2183.5" cy="2259.9" r="14.4" fill="#000000" fill-opacity="0.5" stroke="#000000" stroke-width="4.7"/>
<circle cx="2253.4" cy="2263.2" r="14.4" fill="#000000" fill-opacity="0.5" stroke="#000000" stroke-width="4.7"/>
<circle cx="2293.4" cy="2271.5" r="14.4" fill="#000000" fill-opacity="0.5" stroke="#000000" stroke-width="4.7"/>
<circle cx="2243.4" cy="2279.9" r="14.4" fill="#000000" fill-opacity="0.5" stroke="#000000" stroke-width="4.7"/>
<circle cx="2200.1" cy="2284.9" r="14.4" fill="#000000" fill-opacity="0.5" stroke="#000000" stroke-width="4.7"/>
<circle cx="2183.5" cy="2293.2" r="14.4" fill="#000000" fill-opacity="0.5" stroke="#000000" stroke-width="4.7"/>
<polyline points="2180.0,1426.0 2065.0,1435.0 2155.0,1445.0 2330.0,1456.0 2405.0,1465.0 2570.0,1474.0 2570.0,1479.0 2340.0,1491.0 2370.0,1500.0 2130.0,1510.0 2045.0,1522.5 2115.0,1532.5 2190.0,1542.5 2380.0,1552.5 2405.0,1560.0 2280.0,1572.5 2115.0,1590.0 2205.0,1600.0 2110.0,1615.0 2230.0,1622.5 2385.0,1631.0 2330.0,1642.5 2205.0,1655.0 2170.0,1667.5 2230.0,1675.0 2180.0,1687.5 2190.0,1695.0 2310.0,1701.0 2380.0,1720.0 2320.0,1730.0 2265.0,1745.0 2280.0,1760.0 2295.0,1775.0 2405.0,1792.5 2390.0,1810.0 2500.0,1832.5 2455.0,1845.0 2380.0,1857.5 2220.0,1872.5 2220.0,1885.0 2245.0,1900.0 2160.0,1915.0 2155.0,1930.0 2145.0,1936.0 2205.0,1952.5 2175.0,1965.0 2210.0,1977.5 2200.0,1990.0 2240.0,2000.0 2190.0,2010.0 2195.0,2017.5 2075.0,2029.0 2023.6,2041.7 2090.2,2050.0 2116.8,2058.3 2096.9,2065.0 2156.8,2073.3 2130.2,2090.0 2090.2,2106.6 2130.2,2116.6 2140.2,2130.0 2136.8,2143.3 2150.2,2148.3 2110.2,2154.9 2103.5,2163.3 2146.8,2176.6 2056.9,2193.3 1970.2,2206.6 1913.6,2211.6 1963.6,2219.9 2083.5,2226.6 1950.3,2233.2 1970.2,2239.9 1897.0,2246.6 1956.9,2249.9 1900.3,2256.6 1966.9,2259.9 1903.6,2266.5 1950.3,2269.9 1900.3,2276.5 1943.6,2283.2 1897.0,2289.9 1857.0,2301.5 1930.3,2309.9 2190.1,2316.5 2036.9,2319.2" fill="none" stroke="#FEC680" stroke-width="9.0" stroke-linejoin="round" stroke-linecap="round" />
<circle cx="1996.9" cy="2198.2" r="14.4" fill="#FEC680" fill-opacity="0.47" stroke="#FEC680" stroke-width="4.7"/>
<circle cx="1911.9" cy="2209.9" r="14.4" fill="#FEC680" fill-opacity="0.47" stroke="#FEC680" stroke-width="4.7"/>
<circle cx="1877.0" cy="2229.9" r="14.4" fill="#FEC680" fill-opacity="0.47" stroke="#FEC680" stroke-width="4.7"/>
<circle cx="1897.0" cy="2226.6" r="14.4" fill="#FEC680" fill-opacity="0.47" stroke="#FEC680" stroke-width="4.7"/>
<circle cx="1913.6" cy="2246.6" r="14.4" fill="#FEC680" fill-opacity="0.47" stroke="#FEC680" stroke-width="4.7"/>
<circle cx="1923.6" cy="2263.2" r="14.4" fill="#FEC680" fill-opacity="0.47" stroke="#FEC680" stroke-width="4.7"/>
<circle cx="1940.3" cy="2286.5" r="14.4" fill="#FEC680" fill-opacity="0.47" stroke="#FEC680" stroke-width="4.7"/>
<circle cx="1920.3" cy="2293.2" r="14.4" fill="#FEC680" fill-opacity="0.47" stroke="#FEC680" stroke-width="4.7"/>
<circle cx="2170.1" cy="2168.3" r="14.4" fill="#FEC680" fill-opacity="0.47" stroke="#FEC680" stroke-width="4.7"/>
</g>
<line x1="1797.5" y1="2324.3" x2="2999.4" y2="2324.3" stroke="#262626" stroke-width="2.2"/>
<line x1="1906.8" y1="2324.3" x2="1906.8" y2="2311.7000000000003" stroke="#262626" stroke-width="2.2"/>
<text x="1871.3" y="2386.8" font-size="47.5" fill="#262626" textLength="70.7" lengthAdjust="spacingAndGlyphs" >-10</text>
<line x1="2179.9" y1="2324.3" x2="2179.9" y2="2311.7000000000003" stroke="#262626" stroke-width="2.2"/>
<text x="2158.1" y="2386.8" font-size="47.5" fill="#262626" textLength="43.5" lengthAdjust="spacingAndGlyphs" >-5</text>
<line x1="2453.1" y1="2324.3" x2="2453.1" y2="2311.7000000000003" stroke="#262626" stroke-width="2.2"/>
<text x="2439.5" y="2386.8" font-size="47.5" fill="#262626" textLength="27.2" lengthAdjust="spacingAndGlyphs" >0</text>
<line x1="2726.2" y1="2324.3" x2="2726.2" y2="2311.7000000000003" stroke="#262626" stroke-width="2.2"/>
<text x="2712.7" y="2386.8" font-size="47.5" fill="#262626" textLength="27.2" lengthAdjust="spacingAndGlyphs" >5</text>
<text x="2971.3" y="2386.8" font-size="47.5" fill="#262626" textLength="54.4" lengthAdjust="spacingAndGlyphs" >10</text>
<line x1="1797.5" y1="1425.4" x2="1797.5" y2="2324.3" stroke="#0072BD" stroke-width="2.3"/>
<line x1="2999.4" y1="1425.4" x2="2999.4" y2="2324.3" stroke="#0072BD" stroke-width="2.2"/>
<line x1="1797.5" y1="2324.3" x2="1810.5" y2="2324.3" stroke="#0072BD" stroke-width="2.2"/>
<text x="1748.2" y="2340.3" font-size="47.5" fill="#0072BD" textLength="27.2" lengthAdjust="spacingAndGlyphs" >0</text>
<line x1="1797.5" y1="2024.7" x2="1810.5" y2="2024.7" stroke="#0072BD" stroke-width="2.2"/>
<text x="1748.3" y="2040.7" font-size="47.5" fill="#0072BD" textLength="27.2" lengthAdjust="spacingAndGlyphs" >5</text>
<line x1="1797.5" y1="1725.0" x2="1810.5" y2="1725.0" stroke="#0072BD" stroke-width="2.2"/>
<text x="1721.0" y="1741.0" font-size="47.5" fill="#0072BD" textLength="54.4" lengthAdjust="spacingAndGlyphs" >10</text>
<line x1="1797.5" y1="1425.4" x2="1810.5" y2="1425.4" stroke="#0072BD" stroke-width="2.2"/>
<text x="1721.1" y="1441.4" font-size="47.5" fill="#0072BD" textLength="54.4" lengthAdjust="spacingAndGlyphs" >15</text>
<g transform="translate(1692.3,0) rotate(-90)"><text x="-2060.3" y="0" font-size="47.5" fill="#0072BD" textLength="370.6" lengthAdjust="spacingAndGlyphs">Altitude, AGL km</text></g>
<text x="2103.6" y="2449.8" font-size="47.5" fill="#262626" textLength="590.6" lengthAdjust="spacingAndGlyphs" >V Wind (m/s) on 20250613</text>
<clipPath id="c5"><rect x="376.5" y="2542.3" width="1195.9" height="910.1999999999998"/></clipPath>
<g clip-path="url(#c5)">
<polyline points="512.6,2548.3 515.9,2555.0 502.6,2563.3 499.3,2573.3 502.6,2580.0 489.3,2590.0 472.6,2605.0 466.0,2623.3 466.0,2640.0 456.0,2653.3 459.3,2666.6 456.0,2679.9 456.0,2693.3 462.6,2706.6 452.6,2723.2 436.0,2743.2 456.0,2759.9 432.6,2771.6 456.0,2793.2 439.3,2799.9 456.0,2813.2 456.0,2826.5 472.6,2838.2 476.0,2848.3 492.6,2860.0 532.6,2881.6 542.6,2900.0 592.6,2926.6 622.5,2946.6 675.9,2971.6 722.5,2994.9 762.5,3016.6 815.8,3039.9 855.8,3061.6 915.7,3086.5 989.0,3116.5 1022.3,3138.2 1038.3,3148.3 1074.9,3163.3 1124.9,3185.0 1144.9,3200.0 1198.2,3221.6 1238.2,3240.0 1258.2,3249.9 1271.5,3264.9 1278.2,3288.3 1298.1,3303.3 1311.5,3316.6 1344.8,3333.2 1384.8,3351.6 1414.8,3373.2 1434.7,3386.5 1491.4,3409.9 1568.0,3441.5 1564.7,3448.2" fill="none" stroke="#000000" stroke-width="9.0" stroke-linejoin="round" stroke-linecap="round" />
<polyline points="502.6,2548.3 482.6,2566.7 479.3,2575.0 509.3,2590.0 515.9,2600.0 485.9,2610.0 472.6,2616.6 476.0,2626.6 456.0,2631.6 456.0,2646.6 482.6,2659.9 492.6,2673.3 495.9,2693.3 472.6,2704.9 476.0,2711.6 439.3,2736.6 436.0,2746.6 409.3,2756.6 416.0,2773.2 389.3,2779.9 392.7,2799.9 412.6,2814.9 402.7,2823.2 436.0,2838.2 492.6,2863.3 535.9,2886.6 575.9,2910.0 649.2,2946.6 705.8,2979.9 729.2,2989.9 782.5,3014.9 849.1,3049.9 909.1,3078.2 949.0,3099.9 992.4,3118.2 1022.3,3133.2 1038.3,3151.7 1081.6,3173.3 1131.6,3200.0 1198.2,3228.3 1231.5,3243.3 1244.8,3261.6 1284.8,3279.9 1318.1,3298.3 1348.1,3319.9 1364.8,3336.6 1338.1,3341.6 1338.1,3349.9 1398.1,3376.5 1441.4,3396.5 1491.4,3416.5 1561.3,3444.8" fill="none" stroke="#FEC680" stroke-width="9.0" stroke-linejoin="round" stroke-linecap="round" />
</g>
<line x1="376.5" y1="3452.5" x2="1572.4" y2="3452.5" stroke="#262626" stroke-width="2.2"/>
<line x1="408.4" y1="3452.5" x2="408.4" y2="3439.9" stroke="#262626" stroke-width="2.2"/>
<text x="372.9" y="3515.0" font-size="47.5" fill="#262626" textLength="70.7" lengthAdjust="spacingAndGlyphs" >-60</text>
<line x1="727.3" y1="3452.5" x2="727.3" y2="3439.9" stroke="#262626" stroke-width="2.2"/>
<text x="691.8" y="3515.0" font-size="47.5" fill="#262626" textLength="70.7" lengthAdjust="spacingAndGlyphs" >-40</text>
<line x1="1046.2" y1="3452.5" x2="1046.2" y2="3439.9" stroke="#262626" stroke-width="2.2"/>
<text x="1010.7" y="3515.0" font-size="47.5" fill="#262626" textLength="70.7" lengthAdjust="spacingAndGlyphs" >-20</text>
<line x1="1365.1" y1="3452.5" x2="1365.1" y2="3439.9" stroke="#262626" stroke-width="2.2"/>
<text x="1351.5" y="3515.0" font-size="47.5" fill="#262626" textLength="27.2" lengthAdjust="spacingAndGlyphs" >0</text>
<line x1="376.5" y1="2548.3" x2="376.5" y2="3452.5" stroke="#0072BD" stroke-width="2.3"/>
<line x1="1572.4" y1="2548.3" x2="1572.4" y2="3452.5" stroke="#0072BD" stroke-width="2.2"/>
<line x1="376.5" y1="3452.5" x2="389.5" y2="3452.5" stroke="#0072BD" stroke-width="2.2"/>
<text x="327.2" y="3468.5" font-size="47.5" fill="#0072BD" textLength="27.2" lengthAdjust="spacingAndGlyphs" >0</text>
<line x1="376.5" y1="3151.1" x2="389.5" y2="3151.1" stroke="#0072BD" stroke-width="2.2"/>
<text x="327.3" y="3167.1" font-size="47.5" fill="#0072BD" textLength="27.2" lengthAdjust="spacingAndGlyphs" >5</text>
<line x1="376.5" y1="2849.7" x2="389.5" y2="2849.7" stroke="#0072BD" stroke-width="2.2"/>
<text x="300.0" y="2865.7" font-size="47.5" fill="#0072BD" textLength="54.4" lengthAdjust="spacingAndGlyphs" >10</text>
<line x1="376.5" y1="2548.3" x2="389.5" y2="2548.3" stroke="#0072BD" stroke-width="2.2"/>
<text x="300.1" y="2564.3" font-size="47.5" fill="#0072BD" textLength="54.4" lengthAdjust="spacingAndGlyphs" >15</text>
<g transform="translate(271.3,0) rotate(-90)"><text x="-3185.9" y="0" font-size="47.5" fill="#0072BD" textLength="370.6" lengthAdjust="spacingAndGlyphs">Altitude, AGL km</text></g>
<clipPath id="c6"><rect x="1797.5" y="2542.3" width="1201.9" height="910.1999999999998"/></clipPath>
<g clip-path="url(#c6)">
<polyline points="1810.3,2548.3 1813.0,2583.3 1817.7,2623.3 1822.3,2656.6 1827.7,2683.3 1834.3,2701.6 1838.6,2718.2 1853.6,2733.2 1877.0,2743.2 1867.0,2759.9 1923.6,2769.9 1926.9,2776.5 1916.9,2789.9 1930.3,2796.5 2043.5,2799.9 2013.6,2809.9 2030.2,2814.9 2123.5,2816.5 2150.2,2821.5 2180.1,2829.9 2230.1,2834.9 2232.0,2835.0 2007.0,2842.5 2122.0,2847.5 2127.0,2852.5 2222.0,2860.0 2137.0,2870.0 2062.0,2882.5 2132.0,2890.0 2147.0,2897.5 2067.0,2905.0 1922.0,2910.0 1877.0,2922.5 1957.0,2929.0 1892.0,2940.0 2027.0,2946.0 2057.0,2952.5 2017.0,2965.0 1947.0,2982.5 1967.0,2990.0 1947.0,3002.5 2067.0,3016.0 2092.0,3022.5 2177.0,3034.0 2157.0,3042.5 2192.0,3047.5 2167.0,3057.5 2342.0,3064.0 2322.0,3069.0 2187.0,3075.0 2147.0,3090.0 2107.0,3097.5 2167.0,3105.0 1997.0,3115.0 1937.0,3127.5 1957.0,3135.0 1957.0,3137.5 2037.0,3150.0 2042.0,3157.5 1977.0,3157.5 1937.0,3162.5 1902.0,3170.0 1907.0,3185.0 2142.0,3197.5 2122.0,3205.0 1992.0,3220.0 1997.0,3230.0 1922.0,3240.0 1862.0,3250.0 1887.0,3262.5 1912.0,3272.5 2022.0,3280.0 2037.0,3287.5 2212.0,3290.0 2207.0,3300.0 2347.0,3302.5 2272.0,3307.5 2354.0,3311.6 2637.2,3314.9 2663.8,3321.6 2530.6,3326.6 2580.6,3332.6 2527.2,3336.6 2647.2,3339.9 2620.5,3348.2 2473.9,3354.9 2533.9,3361.6 2680.5,3368.2 2587.2,3373.2 2673.8,3374.9 2600.5,3379.9 3000.3,3383.2 2997.0,3393.2 2970.4,3398.2 2987.0,3403.2 2937.0,3409.9 2820.4,3421.5 2637.2,3443.2 2733.8,3446.5" fill="none" stroke="#000000" stroke-width="9.0" stroke-linejoin="round" stroke-linecap="round" />
<polyline points="1812.0,2548.3 1814.3,2573.3 1812.0,2600.0 1817.7,2630.0 1821.0,2649.9 1818.3,2673.3 1822.0,2699.9 1832.0,2719.9 1863.6,2739.9 1873.6,2748.2 1897.0,2749.9 1946.9,2761.6 1940.3,2771.6 1963.6,2774.9 2130.2,2783.2 2180.1,2788.2 2166.8,2794.9 2230.1,2798.2 2226.8,2803.2 2393.4,2808.2 2370.0,2813.2 2443.3,2816.5 2686.0,2826.7 2483.1,2835.0 2633.0,2843.3 2549.7,2851.7 2473.1,2860.0 2429.8,2866.6 2519.7,2875.0 2406.5,2883.3 2376.5,2891.6 2439.8,2895.0 2426.5,2901.6 2533.1,2905.0 2586.4,2913.3 2499.8,2916.6 2333.2,2923.3 2296.5,2930.0 2499.8,2931.6 2276.5,2939.9 2426.5,2946.6 2333.2,2949.9 2283.2,2953.3 2083.3,2963.3 1952.0,2975.0 2027.0,2979.0 1922.0,2990.0 2117.0,2992.5 1957.0,3006.0 1887.0,3030.0 1957.0,3037.5 1912.0,3060.0 1962.0,3065.0 1952.0,3077.5 1982.0,3092.5 1927.0,3115.0 1907.0,3132.5 1902.0,3135.0 1997.0,3150.0 1982.0,3159.0 2067.0,3167.5 2057.0,3174.0 2217.0,3180.0 2237.0,3192.5 2297.0,3200.0 2362.0,3212.5 2387.0,3217.5 2357.0,3227.5 2247.0,3245.0 2052.0,3245.0 2257.0,3252.5 2272.0,3262.5 2447.0,3270.0 2437.0,3275.0 2267.0,3280.0 2362.0,3287.5 2197.0,3295.0 2007.0,3300.0 1942.0,3310.0 1957.0,3317.5 1897.0,3320.0 2197.0,3327.5 2177.0,3332.5 2092.0,3339.0 2970.4,3349.9 2913.7,3356.6 2813.8,3364.9 2783.8,3373.2 2850.4,3383.2 2863.7,3394.9 2670.5,3416.5 2597.2,3428.2 2517.3,3441.5 2600.5,3443.2" fill="none" stroke="#FEC680" stroke-width="9.0" stroke-linejoin="round" stroke-linecap="round" />
</g>
<line x1="1797.5" y1="3452.5" x2="2999.4" y2="3452.5" stroke="#262626" stroke-width="2.2"/>
<text x="1783.9" y="3515.0" font-size="47.5" fill="#262626" textLength="27.2" lengthAdjust="spacingAndGlyphs" >0</text>
<line x1="2037.9" y1="3452.5" x2="2037.9" y2="3439.9" stroke="#262626" stroke-width="2.2"/>
<text x="2010.4" y="3515.0" font-size="47.5" fill="#262626" textLength="54.4" lengthAdjust="spacingAndGlyphs" >20</text>
<line x1="2278.3" y1="3452.5" x2="2278.3" y2="3439.9" stroke="#262626" stroke-width="2.2"/>
<text x="2251.4" y="3515.0" font-size="47.5" fill="#262626" textLength="54.4" lengthAdjust="spacingAndGlyphs" >40</text>
<line x1="2518.6" y1="3452.5" x2="2518.6" y2="3439.9" stroke="#262626" stroke-width="2.2"/>
<text x="2491.1" y="3515.0" font-size="47.5" fill="#262626" textLength="54.4" lengthAdjust="spacingAndGlyphs" >60</text>
<line x1="2759.0" y1="3452.5" x2="2759.0" y2="3439.9" stroke="#262626" stroke-width="2.2"/>
<text x="2731.7" y="3515.0" font-size="47.5" fill="#262626" textLength="54.4" lengthAdjust="spacingAndGlyphs" >80</text>
<text x="2957.7" y="3515.0" font-size="47.5" fill="#262626" textLength="81.6" lengthAdjust="spacingAndGlyphs" >100</text>
<line x1="1797.5" y1="2548.3" x2="1797.5" y2="3452.5" stroke="#0072BD" stroke-width="2.3"/>
<line x1="2999.4" y1="2548.3" x2="2999.4" y2="3452.5" stroke="#0072BD" stroke-width="2.2"/>
<line x1="1797.5" y1="3452.5" x2="1810.5" y2="3452.5" stroke="#0072BD" stroke-width="2.2"/>
<text x="1748.2" y="3468.5" font-size="47.5" fill="#0072BD" textLength="27.2" lengthAdjust="spacingAndGlyphs" >0</text>
<line x1="1797.5" y1="3151.1" x2="1810.5" y2="3151.1" stroke="#0072BD" stroke-width="2.2"/>
<text x="1748.3" y="3167.1" font-size="47.5" fill="#0072BD" textLength="27.2" lengthAdjust="spacingAndGlyphs" >5</text>
<line x1="1797.5" y1="2849.7" x2="1810.5" y2="2849.7" stroke="#0072BD" stroke-width="2.2"/>
<text x="1721.0" y="2865.7" font-size="47.5" fill="#0072BD" textLength="54.4" lengthAdjust="spacingAndGlyphs" >10</text>
<line x1="1797.5" y1="2548.3" x2="1810.5" y2="2548.3" stroke="#0072BD" stroke-width="2.2"/>
<text x="1721.1" y="2564.3" font-size="47.5" fill="#0072BD" textLength="54.4" lengthAdjust="spacingAndGlyphs" >15</text>
<g transform="translate(1692.3,0) rotate(-90)"><text x="-3185.9" y="0" font-size="47.5" fill="#0072BD" textLength="370.6" lengthAdjust="spacingAndGlyphs">Altitude, AGL km</text></g>
<text x="2000.6" y="3577.4" font-size="47.5" fill="#262626" textLength="790.3" lengthAdjust="spacingAndGlyphs" >Relative Humidity (%) on 20250613</text>
<text x="624.3" y="3594.0" font-size="47.5" fill="#262626" textLength="317.0" lengthAdjust="spacingAndGlyphs" >Temperature (</text>
<text x="947.7" y="3574.0" font-size="36" fill="#262626" textLength="24.0" lengthAdjust="spacingAndGlyphs" >o</text>
<text x="969.3" y="3594.0" font-size="47.5" fill="#262626" textLength="356.2" lengthAdjust="spacingAndGlyphs" >C) on 20250613</text>
<line x1="1042" y1="971.0" x2="1186" y2="971.0" stroke="#000" stroke-width="8"/>
<text x="1200.3" y="986.0" font-size="40.5" fill="#000" textLength="206.6" lengthAdjust="spacingAndGlyphs" >11:30 UTC</text>
<circle cx="1111.5" cy="1021.7" r="14.4" fill="#808080" stroke="#000" stroke-width="4.7"/>
<text x="1200.2" y="1037.7" font-size="40.5" fill="#000" textLength="307.3" lengthAdjust="spacingAndGlyphs" >RWP 11:00 UTC</text>
<line x1="1042" y1="1074.4" x2="1186" y2="1074.4" stroke="#FEC680" stroke-width="8"/>
<text x="1201.5" y="1089.4" font-size="40.5" fill="#000" textLength="205.5" lengthAdjust="spacingAndGlyphs" >23:30 UTC</text>
<circle cx="1111.5" cy="1125.1" r="14.4" fill="#FEE4C4" stroke="#FEC680" stroke-width="4.7"/>
<text x="1200.2" y="1141.1" font-size="40.5" fill="#000" textLength="307.3" lengthAdjust="spacingAndGlyphs" >RWP 23:00 UTC</text>
<line x1="1866.3" y1="371.4" x2="2012.6" y2="371.4" stroke="#000" stroke-width="8"/>
<text x="2025.7" y="386.4" font-size="40.5" fill="#000" textLength="206.6" lengthAdjust="spacingAndGlyphs" >11:30 UTC</text>
<circle cx="1936.9" cy="421.5" r="14.4" fill="#808080" stroke="#000" stroke-width="4.7"/>
<text x="2025.6" y="437.5" font-size="40.5" fill="#000" textLength="307.3" lengthAdjust="spacingAndGlyphs" >RWP 11:00 UTC</text>
<line x1="1866.3" y1="473.6" x2="2012.6" y2="473.6" stroke="#FEC680" stroke-width="8"/>
<text x="2026.9" y="488.6" font-size="40.5" fill="#000" textLength="205.5" lengthAdjust="spacingAndGlyphs" >23:30 UTC</text>
<circle cx="1936.9" cy="523.7" r="14.4" fill="#FEE4C4" stroke="#FEC680" stroke-width="4.7"/>
<text x="2025.6" y="539.7" font-size="40.5" fill="#000" textLength="307.3" lengthAdjust="spacingAndGlyphs" >RWP 23:00 UTC</text>
<line x1="1025.4" y1="1796.9" x2="1172.4" y2="1796.9" stroke="#000" stroke-width="8"/>
<text x="1185.6" y="1811.9" font-size="40.5" fill="#000" textLength="206.6" lengthAdjust="spacingAndGlyphs" >11:30 UTC</text>
<rect x="1089.1" y="1838.9" width="19.6" height="19.6" fill="#808080" stroke="#000" stroke-width="4"/>
<text x="1185.5" y="1863.7" font-size="40.5" fill="#000" textLength="336.5" lengthAdjust="spacingAndGlyphs" >RWP U11:00 UTC</text>
<line x1="1025.4" y1="1900.5" x2="1172.4" y2="1900.5" stroke="#FEC680" stroke-width="8"/>
<text x="1186.8" y="1915.5" font-size="40.5" fill="#000" textLength="205.5" lengthAdjust="spacingAndGlyphs" >23:30 UTC</text>
<rect x="1089.1" y="1942.5" width="19.6" height="19.6" fill="#FEE4C4" stroke="#FEC680" stroke-width="4"/>
<text x="1185.5" y="1967.3" font-size="40.5" fill="#000" textLength="336.5" lengthAdjust="spacingAndGlyphs" >RWP U23:00 UTC</text>
<line x1="2447.5" y1="2099.4" x2="2593.2" y2="2099.4" stroke="#000" stroke-width="8"/>
<text x="2607.9" y="2114.4" font-size="40.5" fill="#000" textLength="206.6" lengthAdjust="spacingAndGlyphs" >11:30 UTC</text>
<circle cx="2517.8" cy="2148.9" r="14.4" fill="#808080" stroke="#000" stroke-width="4.7"/>
<text x="2607.8" y="2164.9" font-size="40.5" fill="#000" textLength="346.3" lengthAdjust="spacingAndGlyphs" >RWP V 11:00 UTC</text>
<line x1="2447.5" y1="2200.4" x2="2593.2" y2="2200.4" stroke="#FEC680" stroke-width="8"/>
<text x="2609.1" y="2215.4" font-size="40.5" fill="#000" textLength="205.5" lengthAdjust="spacingAndGlyphs" >23:30 UTC</text>
<circle cx="2517.8" cy="2249.9" r="14.4" fill="#FEE4C4" stroke="#FEC680" stroke-width="4.7"/>
<text x="2607.8" y="2265.9" font-size="40.5" fill="#000" textLength="346.3" lengthAdjust="spacingAndGlyphs" >RWP V 23:00 UTC</text>
<line x1="1094.3" y1="2598.1" x2="1238.5" y2="2598.1" stroke="#000" stroke-width="8"/>
<text x="1252.7" y="2613.1" font-size="40.5" fill="#000" textLength="206.6" lengthAdjust="spacingAndGlyphs" >11:30 UTC</text>
<line x1="1094.3" y1="2650.1" x2="1238.5" y2="2650.1" stroke="#FEC680" stroke-width="8"/>
<text x="1253.9" y="2665.1" font-size="40.5" fill="#000" textLength="205.5" lengthAdjust="spacingAndGlyphs" >23:30 UTC</text>
<line x1="2515.6" y1="2598.1" x2="2662.3" y2="2598.1" stroke="#000" stroke-width="8"/>
<text x="2676.5" y="2613.1" font-size="40.5" fill="#000" textLength="206.6" lengthAdjust="spacingAndGlyphs" >11:30 UTC</text>
<line x1="2515.6" y1="2650.1" x2="2662.3" y2="2650.1" stroke="#FEC680" stroke-width="8"/>
<text x="2677.7" y="2665.1" font-size="40.5" fill="#000" textLength="205.5" lengthAdjust="spacingAndGlyphs" >23:30 UTC</text>
</svg></body></html>
